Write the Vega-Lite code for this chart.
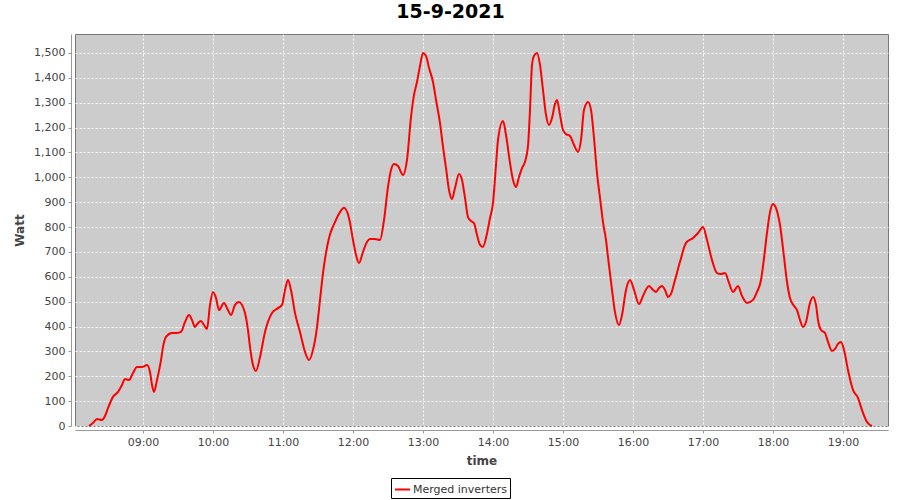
{
  "$schema": "https://vega.github.io/schema/vega-lite/v6.json",
  "width": 813,
  "height": 392,
  "autosize": "none",
  "padding": {"left": 75, "top": 34, "right": 12, "bottom": 74},
  "background": "white",
  "title": {
    "text": "15-9-2021",
    "font": "DejaVu Sans",
    "fontSize": 19,
    "fontWeight": "bold",
    "color": "black",
    "anchor": "middle",
    "dx": -31,
    "offset": 12
  },
  "config": {
    "view": {"fill": "#cccccc", "stroke": "#777777", "strokeWidth": 1},
    "font": "DejaVu Sans"
  },
  "data": {
    "values": [
      {"t": "2021-09-15T08:13:43", "w": 0, "s": "Merged inverters"},
      {"t": "2021-09-15T08:17:09", "w": 12, "s": "Merged inverters"},
      {"t": "2021-09-15T08:20:34", "w": 28, "s": "Merged inverters"},
      {"t": "2021-09-15T08:24:51", "w": 24, "s": "Merged inverters"},
      {"t": "2021-09-15T08:27:26", "w": 40, "s": "Merged inverters"},
      {"t": "2021-09-15T08:30:00", "w": 72, "s": "Merged inverters"},
      {"t": "2021-09-15T08:34:17", "w": 117, "s": "Merged inverters"},
      {"t": "2021-09-15T08:38:34", "w": 137, "s": "Merged inverters"},
      {"t": "2021-09-15T08:42:00", "w": 165, "s": "Merged inverters"},
      {"t": "2021-09-15T08:44:34", "w": 189, "s": "Merged inverters"},
      {"t": "2021-09-15T08:48:00", "w": 185, "s": "Merged inverters"},
      {"t": "2021-09-15T08:51:26", "w": 213, "s": "Merged inverters"},
      {"t": "2021-09-15T08:54:51", "w": 237, "s": "Merged inverters"},
      {"t": "2021-09-15T08:59:09", "w": 237, "s": "Merged inverters"},
      {"t": "2021-09-15T09:03:26", "w": 245, "s": "Merged inverters"},
      {"t": "2021-09-15T09:06:00", "w": 217, "s": "Merged inverters"},
      {"t": "2021-09-15T09:07:43", "w": 165, "s": "Merged inverters"},
      {"t": "2021-09-15T09:09:26", "w": 137, "s": "Merged inverters"},
      {"t": "2021-09-15T09:12:00", "w": 185, "s": "Merged inverters"},
      {"t": "2021-09-15T09:15:26", "w": 265, "s": "Merged inverters"},
      {"t": "2021-09-15T09:17:09", "w": 318, "s": "Merged inverters"},
      {"t": "2021-09-15T09:19:43", "w": 358, "s": "Merged inverters"},
      {"t": "2021-09-15T09:24:51", "w": 374, "s": "Merged inverters"},
      {"t": "2021-09-15T09:29:09", "w": 374, "s": "Merged inverters"},
      {"t": "2021-09-15T09:32:34", "w": 378, "s": "Merged inverters"},
      {"t": "2021-09-15T09:36:00", "w": 418, "s": "Merged inverters"},
      {"t": "2021-09-15T09:39:26", "w": 446, "s": "Merged inverters"},
      {"t": "2021-09-15T09:42:00", "w": 426, "s": "Merged inverters"},
      {"t": "2021-09-15T09:44:34", "w": 398, "s": "Merged inverters"},
      {"t": "2021-09-15T09:47:09", "w": 414, "s": "Merged inverters"},
      {"t": "2021-09-15T09:49:43", "w": 422, "s": "Merged inverters"},
      {"t": "2021-09-15T09:52:17", "w": 406, "s": "Merged inverters"},
      {"t": "2021-09-15T09:54:51", "w": 390, "s": "Merged inverters"},
      {"t": "2021-09-15T09:57:26", "w": 487, "s": "Merged inverters"},
      {"t": "2021-09-15T10:00:00", "w": 539, "s": "Merged inverters"},
      {"t": "2021-09-15T10:02:34", "w": 515, "s": "Merged inverters"},
      {"t": "2021-09-15T10:05:09", "w": 466, "s": "Merged inverters"},
      {"t": "2021-09-15T10:09:26", "w": 495, "s": "Merged inverters"},
      {"t": "2021-09-15T10:12:51", "w": 466, "s": "Merged inverters"},
      {"t": "2021-09-15T10:15:26", "w": 446, "s": "Merged inverters"},
      {"t": "2021-09-15T10:18:51", "w": 487, "s": "Merged inverters"},
      {"t": "2021-09-15T10:22:17", "w": 499, "s": "Merged inverters"},
      {"t": "2021-09-15T10:24:51", "w": 487, "s": "Merged inverters"},
      {"t": "2021-09-15T10:27:26", "w": 454, "s": "Merged inverters"},
      {"t": "2021-09-15T10:30:00", "w": 386, "s": "Merged inverters"},
      {"t": "2021-09-15T10:31:43", "w": 318, "s": "Merged inverters"},
      {"t": "2021-09-15T10:34:17", "w": 245, "s": "Merged inverters"},
      {"t": "2021-09-15T10:36:51", "w": 221, "s": "Merged inverters"},
      {"t": "2021-09-15T10:40:17", "w": 277, "s": "Merged inverters"},
      {"t": "2021-09-15T10:44:34", "w": 378, "s": "Merged inverters"},
      {"t": "2021-09-15T10:50:34", "w": 454, "s": "Merged inverters"},
      {"t": "2021-09-15T10:55:43", "w": 474, "s": "Merged inverters"},
      {"t": "2021-09-15T10:59:09", "w": 487, "s": "Merged inverters"},
      {"t": "2021-09-15T11:01:43", "w": 547, "s": "Merged inverters"},
      {"t": "2021-09-15T11:04:17", "w": 587, "s": "Merged inverters"},
      {"t": "2021-09-15T11:06:51", "w": 547, "s": "Merged inverters"},
      {"t": "2021-09-15T11:10:17", "w": 454, "s": "Merged inverters"},
      {"t": "2021-09-15T11:14:34", "w": 378, "s": "Merged inverters"},
      {"t": "2021-09-15T11:18:51", "w": 298, "s": "Merged inverters"},
      {"t": "2021-09-15T11:22:17", "w": 265, "s": "Merged inverters"},
      {"t": "2021-09-15T11:25:43", "w": 306, "s": "Merged inverters"},
      {"t": "2021-09-15T11:29:09", "w": 398, "s": "Merged inverters"},
      {"t": "2021-09-15T11:31:43", "w": 507, "s": "Merged inverters"},
      {"t": "2021-09-15T11:34:17", "w": 615, "s": "Merged inverters"},
      {"t": "2021-09-15T11:36:51", "w": 696, "s": "Merged inverters"},
      {"t": "2021-09-15T11:39:26", "w": 756, "s": "Merged inverters"},
      {"t": "2021-09-15T11:44:34", "w": 820, "s": "Merged inverters"},
      {"t": "2021-09-15T11:48:51", "w": 860, "s": "Merged inverters"},
      {"t": "2021-09-15T11:52:17", "w": 877, "s": "Merged inverters"},
      {"t": "2021-09-15T11:56:34", "w": 836, "s": "Merged inverters"},
      {"t": "2021-09-15T12:00:00", "w": 748, "s": "Merged inverters"},
      {"t": "2021-09-15T12:02:34", "w": 688, "s": "Merged inverters"},
      {"t": "2021-09-15T12:05:09", "w": 655, "s": "Merged inverters"},
      {"t": "2021-09-15T12:08:34", "w": 700, "s": "Merged inverters"},
      {"t": "2021-09-15T12:11:09", "w": 732, "s": "Merged inverters"},
      {"t": "2021-09-15T12:14:34", "w": 752, "s": "Merged inverters"},
      {"t": "2021-09-15T12:18:51", "w": 752, "s": "Merged inverters"},
      {"t": "2021-09-15T12:23:09", "w": 748, "s": "Merged inverters"},
      {"t": "2021-09-15T12:26:34", "w": 828, "s": "Merged inverters"},
      {"t": "2021-09-15T12:30:00", "w": 961, "s": "Merged inverters"},
      {"t": "2021-09-15T12:32:34", "w": 1029, "s": "Merged inverters"},
      {"t": "2021-09-15T12:35:09", "w": 1053, "s": "Merged inverters"},
      {"t": "2021-09-15T12:38:34", "w": 1045, "s": "Merged inverters"},
      {"t": "2021-09-15T12:42:51", "w": 1009, "s": "Merged inverters"},
      {"t": "2021-09-15T12:46:17", "w": 1070, "s": "Merged inverters"},
      {"t": "2021-09-15T12:49:43", "w": 1242, "s": "Merged inverters"},
      {"t": "2021-09-15T12:52:17", "w": 1331, "s": "Merged inverters"},
      {"t": "2021-09-15T12:54:51", "w": 1383, "s": "Merged inverters"},
      {"t": "2021-09-15T12:57:26", "w": 1448, "s": "Merged inverters"},
      {"t": "2021-09-15T13:00:00", "w": 1500, "s": "Merged inverters"},
      {"t": "2021-09-15T13:02:34", "w": 1488, "s": "Merged inverters"},
      {"t": "2021-09-15T13:05:09", "w": 1440, "s": "Merged inverters"},
      {"t": "2021-09-15T13:08:34", "w": 1383, "s": "Merged inverters"},
      {"t": "2021-09-15T13:11:09", "w": 1311, "s": "Merged inverters"},
      {"t": "2021-09-15T13:14:34", "w": 1218, "s": "Merged inverters"},
      {"t": "2021-09-15T13:17:09", "w": 1122, "s": "Merged inverters"},
      {"t": "2021-09-15T13:19:43", "w": 1037, "s": "Merged inverters"},
      {"t": "2021-09-15T13:22:17", "w": 949, "s": "Merged inverters"},
      {"t": "2021-09-15T13:24:51", "w": 913, "s": "Merged inverters"},
      {"t": "2021-09-15T13:27:26", "w": 957, "s": "Merged inverters"},
      {"t": "2021-09-15T13:30:51", "w": 1013, "s": "Merged inverters"},
      {"t": "2021-09-15T13:33:26", "w": 989, "s": "Merged inverters"},
      {"t": "2021-09-15T13:36:00", "w": 917, "s": "Merged inverters"},
      {"t": "2021-09-15T13:38:34", "w": 840, "s": "Merged inverters"},
      {"t": "2021-09-15T13:41:09", "w": 824, "s": "Merged inverters"},
      {"t": "2021-09-15T13:43:43", "w": 816, "s": "Merged inverters"},
      {"t": "2021-09-15T13:46:17", "w": 768, "s": "Merged inverters"},
      {"t": "2021-09-15T13:48:51", "w": 728, "s": "Merged inverters"},
      {"t": "2021-09-15T13:51:26", "w": 720, "s": "Merged inverters"},
      {"t": "2021-09-15T13:54:00", "w": 756, "s": "Merged inverters"},
      {"t": "2021-09-15T13:57:26", "w": 836, "s": "Merged inverters"},
      {"t": "2021-09-15T14:00:00", "w": 897, "s": "Merged inverters"},
      {"t": "2021-09-15T14:02:34", "w": 1049, "s": "Merged inverters"},
      {"t": "2021-09-15T14:04:17", "w": 1150, "s": "Merged inverters"},
      {"t": "2021-09-15T14:08:34", "w": 1226, "s": "Merged inverters"},
      {"t": "2021-09-15T14:11:09", "w": 1170, "s": "Merged inverters"},
      {"t": "2021-09-15T14:14:34", "w": 1058, "s": "Merged inverters"},
      {"t": "2021-09-15T14:17:09", "w": 989, "s": "Merged inverters"},
      {"t": "2021-09-15T14:19:43", "w": 961, "s": "Merged inverters"},
      {"t": "2021-09-15T14:22:17", "w": 1001, "s": "Merged inverters"},
      {"t": "2021-09-15T14:24:51", "w": 1037, "s": "Merged inverters"},
      {"t": "2021-09-15T14:27:26", "w": 1062, "s": "Merged inverters"},
      {"t": "2021-09-15T14:30:00", "w": 1126, "s": "Merged inverters"},
      {"t": "2021-09-15T14:31:43", "w": 1271, "s": "Merged inverters"},
      {"t": "2021-09-15T14:33:26", "w": 1452, "s": "Merged inverters"},
      {"t": "2021-09-15T14:35:09", "w": 1488, "s": "Merged inverters"},
      {"t": "2021-09-15T14:37:43", "w": 1500, "s": "Merged inverters"},
      {"t": "2021-09-15T14:40:17", "w": 1452, "s": "Merged inverters"},
      {"t": "2021-09-15T14:42:51", "w": 1351, "s": "Merged inverters"},
      {"t": "2021-09-15T14:45:26", "w": 1251, "s": "Merged inverters"},
      {"t": "2021-09-15T14:48:00", "w": 1210, "s": "Merged inverters"},
      {"t": "2021-09-15T14:50:34", "w": 1238, "s": "Merged inverters"},
      {"t": "2021-09-15T14:53:09", "w": 1295, "s": "Merged inverters"},
      {"t": "2021-09-15T14:54:51", "w": 1311, "s": "Merged inverters"},
      {"t": "2021-09-15T14:57:26", "w": 1251, "s": "Merged inverters"},
      {"t": "2021-09-15T15:00:00", "w": 1190, "s": "Merged inverters"},
      {"t": "2021-09-15T15:02:34", "w": 1174, "s": "Merged inverters"},
      {"t": "2021-09-15T15:06:00", "w": 1166, "s": "Merged inverters"},
      {"t": "2021-09-15T15:09:26", "w": 1130, "s": "Merged inverters"},
      {"t": "2021-09-15T15:12:51", "w": 1102, "s": "Merged inverters"},
      {"t": "2021-09-15T15:15:26", "w": 1150, "s": "Merged inverters"},
      {"t": "2021-09-15T15:18:00", "w": 1271, "s": "Merged inverters"},
      {"t": "2021-09-15T15:21:26", "w": 1303, "s": "Merged inverters"},
      {"t": "2021-09-15T15:24:00", "w": 1271, "s": "Merged inverters"},
      {"t": "2021-09-15T15:26:34", "w": 1158, "s": "Merged inverters"},
      {"t": "2021-09-15T15:29:09", "w": 1017, "s": "Merged inverters"},
      {"t": "2021-09-15T15:31:43", "w": 917, "s": "Merged inverters"},
      {"t": "2021-09-15T15:34:17", "w": 820, "s": "Merged inverters"},
      {"t": "2021-09-15T15:36:51", "w": 748, "s": "Merged inverters"},
      {"t": "2021-09-15T15:38:34", "w": 680, "s": "Merged inverters"},
      {"t": "2021-09-15T15:42:00", "w": 547, "s": "Merged inverters"},
      {"t": "2021-09-15T15:44:34", "w": 458, "s": "Merged inverters"},
      {"t": "2021-09-15T15:48:00", "w": 406, "s": "Merged inverters"},
      {"t": "2021-09-15T15:50:34", "w": 446, "s": "Merged inverters"},
      {"t": "2021-09-15T15:54:00", "w": 547, "s": "Merged inverters"},
      {"t": "2021-09-15T15:57:26", "w": 587, "s": "Merged inverters"},
      {"t": "2021-09-15T16:00:51", "w": 547, "s": "Merged inverters"},
      {"t": "2021-09-15T16:05:09", "w": 490, "s": "Merged inverters"},
      {"t": "2021-09-15T16:08:34", "w": 523, "s": "Merged inverters"},
      {"t": "2021-09-15T16:13:43", "w": 563, "s": "Merged inverters"},
      {"t": "2021-09-15T16:17:09", "w": 547, "s": "Merged inverters"},
      {"t": "2021-09-15T16:19:43", "w": 539, "s": "Merged inverters"},
      {"t": "2021-09-15T16:22:17", "w": 555, "s": "Merged inverters"},
      {"t": "2021-09-15T16:24:51", "w": 563, "s": "Merged inverters"},
      {"t": "2021-09-15T16:27:26", "w": 547, "s": "Merged inverters"},
      {"t": "2021-09-15T16:30:00", "w": 519, "s": "Merged inverters"},
      {"t": "2021-09-15T16:32:34", "w": 531, "s": "Merged inverters"},
      {"t": "2021-09-15T16:36:00", "w": 587, "s": "Merged inverters"},
      {"t": "2021-09-15T16:40:17", "w": 660, "s": "Merged inverters"},
      {"t": "2021-09-15T16:45:26", "w": 736, "s": "Merged inverters"},
      {"t": "2021-09-15T16:51:26", "w": 756, "s": "Merged inverters"},
      {"t": "2021-09-15T16:55:43", "w": 776, "s": "Merged inverters"},
      {"t": "2021-09-15T17:00:00", "w": 800, "s": "Merged inverters"},
      {"t": "2021-09-15T17:03:26", "w": 748, "s": "Merged inverters"},
      {"t": "2021-09-15T17:07:43", "w": 667, "s": "Merged inverters"},
      {"t": "2021-09-15T17:12:00", "w": 615, "s": "Merged inverters"},
      {"t": "2021-09-15T17:15:26", "w": 611, "s": "Merged inverters"},
      {"t": "2021-09-15T17:18:51", "w": 615, "s": "Merged inverters"},
      {"t": "2021-09-15T17:22:17", "w": 575, "s": "Merged inverters"},
      {"t": "2021-09-15T17:25:43", "w": 539, "s": "Merged inverters"},
      {"t": "2021-09-15T17:30:00", "w": 563, "s": "Merged inverters"},
      {"t": "2021-09-15T17:33:26", "w": 523, "s": "Merged inverters"},
      {"t": "2021-09-15T17:37:43", "w": 495, "s": "Merged inverters"},
      {"t": "2021-09-15T17:42:51", "w": 507, "s": "Merged inverters"},
      {"t": "2021-09-15T17:46:17", "w": 539, "s": "Merged inverters"},
      {"t": "2021-09-15T17:49:43", "w": 587, "s": "Merged inverters"},
      {"t": "2021-09-15T17:52:17", "w": 675, "s": "Merged inverters"},
      {"t": "2021-09-15T17:54:51", "w": 776, "s": "Merged inverters"},
      {"t": "2021-09-15T17:57:26", "w": 860, "s": "Merged inverters"},
      {"t": "2021-09-15T18:00:00", "w": 893, "s": "Merged inverters"},
      {"t": "2021-09-15T18:02:34", "w": 876, "s": "Merged inverters"},
      {"t": "2021-09-15T18:06:00", "w": 808, "s": "Merged inverters"},
      {"t": "2021-09-15T18:09:26", "w": 680, "s": "Merged inverters"},
      {"t": "2021-09-15T18:12:00", "w": 579, "s": "Merged inverters"},
      {"t": "2021-09-15T18:14:34", "w": 515, "s": "Merged inverters"},
      {"t": "2021-09-15T18:18:00", "w": 483, "s": "Merged inverters"},
      {"t": "2021-09-15T18:20:34", "w": 466, "s": "Merged inverters"},
      {"t": "2021-09-15T18:23:09", "w": 426, "s": "Merged inverters"},
      {"t": "2021-09-15T18:25:43", "w": 398, "s": "Merged inverters"},
      {"t": "2021-09-15T18:28:17", "w": 418, "s": "Merged inverters"},
      {"t": "2021-09-15T18:31:43", "w": 495, "s": "Merged inverters"},
      {"t": "2021-09-15T18:34:17", "w": 519, "s": "Merged inverters"},
      {"t": "2021-09-15T18:36:51", "w": 487, "s": "Merged inverters"},
      {"t": "2021-09-15T18:38:34", "w": 426, "s": "Merged inverters"},
      {"t": "2021-09-15T18:41:09", "w": 386, "s": "Merged inverters"},
      {"t": "2021-09-15T18:44:34", "w": 374, "s": "Merged inverters"},
      {"t": "2021-09-15T18:47:09", "w": 338, "s": "Merged inverters"},
      {"t": "2021-09-15T18:50:34", "w": 302, "s": "Merged inverters"},
      {"t": "2021-09-15T18:53:09", "w": 310, "s": "Merged inverters"},
      {"t": "2021-09-15T18:55:43", "w": 330, "s": "Merged inverters"},
      {"t": "2021-09-15T18:58:17", "w": 338, "s": "Merged inverters"},
      {"t": "2021-09-15T19:00:51", "w": 306, "s": "Merged inverters"},
      {"t": "2021-09-15T19:04:17", "w": 225, "s": "Merged inverters"},
      {"t": "2021-09-15T19:08:34", "w": 145, "s": "Merged inverters"},
      {"t": "2021-09-15T19:12:51", "w": 113, "s": "Merged inverters"},
      {"t": "2021-09-15T19:16:17", "w": 64, "s": "Merged inverters"},
      {"t": "2021-09-15T19:20:34", "w": 16, "s": "Merged inverters"},
      {"t": "2021-09-15T19:24:51", "w": 0, "s": "Merged inverters"}
    ]
  },
  "mark": {"type": "line", "strokeWidth": 2, "interpolate": "monotone"},
  "encoding": {
    "x": {
      "field": "t",
      "type": "temporal",
      "scale": {
        "domain": [
          {"year": 2021, "month": 9, "date": 15, "hours": 8, "minutes": 1, "seconds": 43},
          {"year": 2021, "month": 9, "date": 15, "hours": 19, "minutes": 38, "seconds": 34}
        ],
        "nice": false
      },
      "axis": {
        "title": "time",
        "titleFont": "DejaVu Sans",
        "titleFontSize": 12,
        "titleFontWeight": "bold",
        "titleColor": "#444444",
        "titlePadding": 8,
        "format": "%H:%M",
        "values": [
          {"year": 2021, "month": 9, "date": 15, "hours": 9},
          {"year": 2021, "month": 9, "date": 15, "hours": 10},
          {"year": 2021, "month": 9, "date": 15, "hours": 11},
          {"year": 2021, "month": 9, "date": 15, "hours": 12},
          {"year": 2021, "month": 9, "date": 15, "hours": 13},
          {"year": 2021, "month": 9, "date": 15, "hours": 14},
          {"year": 2021, "month": 9, "date": 15, "hours": 15},
          {"year": 2021, "month": 9, "date": 15, "hours": 16},
          {"year": 2021, "month": 9, "date": 15, "hours": 17},
          {"year": 2021, "month": 9, "date": 15, "hours": 18},
          {"year": 2021, "month": 9, "date": 15, "hours": 19}
        ],
        "labelFont": "DejaVu Sans",
        "labelFontSize": 11,
        "labelColor": "#444444",
        "labelPadding": 3,
        "offset": 4,
        "domainColor": "#999999",
        "tickColor": "#999999",
        "tickSize": 3,
        "grid": true,
        "gridColor": "white",
        "gridDash": [2, 2],
        "gridWidth": 1,
        "gridOpacity": 1
      }
    },
    "y": {
      "field": "w",
      "type": "quantitative",
      "scale": {"domain": [0, 1576], "nice": false},
      "axis": {
        "title": "Watt",
        "titleFont": "DejaVu Sans",
        "titleFontSize": 12,
        "titleFontWeight": "bold",
        "titleColor": "#444444",
        "titlePadding": 7,
        "values": [0, 100, 200, 300, 400, 500, 600, 700, 800, 900, 1000, 1100, 1200, 1300, 1400, 1500],
        "format": ",d",
        "labelFont": "DejaVu Sans",
        "labelFontSize": 11,
        "labelColor": "#444444",
        "labelPadding": 3,
        "offset": 4,
        "domainColor": "#999999",
        "tickColor": "#999999",
        "tickSize": 3,
        "grid": true,
        "gridColor": "white",
        "gridDash": [2, 2],
        "gridWidth": 1,
        "gridOpacity": 1
      }
    },
    "color": {
      "field": "s",
      "type": "nominal",
      "scale": {"range": ["#ff0000"]},
      "legend": {
        "title": null,
        "orient": "none",
        "legendX": 316,
        "legendY": 444,
        "symbolType": "stroke",
        "symbolSize": 225,
        "symbolStrokeWidth": 2,
        "labelFont": "DejaVu Sans",
        "labelFontSize": 11,
        "labelColor": "#333333",
        "labelOffset": 2,
        "strokeColor": "black",
        "padding": 3
      }
    }
  }
}
